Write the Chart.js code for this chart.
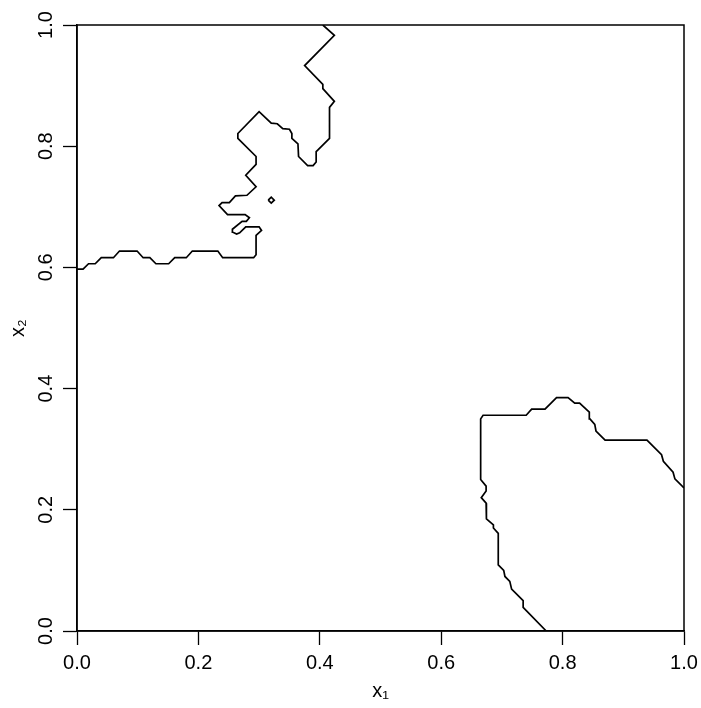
<!DOCTYPE html>
<html>
<head>
<meta charset="utf-8">
<script src="https://cdn.jsdelivr.net/npm/chart.js@4.4.1/dist/chart.umd.min.js"></script>
<style>
  html, body { margin: 0; padding: 0; background: #fff; }
  #wrap { width: 701px; height: 708px; }
</style>
</head>
<body>
<div id="wrap"><canvas id="contourChart" width="701" height="708"></canvas></div>
<script>
// contour touching the left and top edges
const upperX = [0.000, 0.010, 0.019, 0.030, 0.040, 0.060, 0.070, 0.099, 0.109, 0.120, 0.130, 0.151,
    0.161, 0.180, 0.190, 0.232, 0.240, 0.291, 0.295, 0.295, 0.304, 0.300, 0.278, 0.268, 0.263, 0.257,
    0.256, 0.272, 0.279, 0.284, 0.277, 0.248, 0.234, 0.239, 0.251, 0.261, 0.280, 0.295, 0.278, 0.295,
    0.295, 0.265, 0.265, 0.300, 0.320, 0.330, 0.339, 0.350, 0.354, 0.354, 0.364, 0.365, 0.380, 0.389,
    0.394, 0.394, 0.397, 0.416, 0.416, 0.424, 0.405, 0.405, 0.375, 0.424, 0.405];
const upperY = [0.597, 0.597, 0.606, 0.606, 0.616, 0.616, 0.627, 0.627, 0.616, 0.616, 0.606, 0.606,
    0.616, 0.616, 0.627, 0.627, 0.616, 0.616, 0.621, 0.653, 0.661, 0.667, 0.667, 0.657, 0.655, 0.658,
    0.663, 0.676, 0.676, 0.682, 0.687, 0.687, 0.702, 0.707, 0.707, 0.718, 0.719, 0.733, 0.752, 0.770,
    0.783, 0.813, 0.821, 0.857, 0.838, 0.837, 0.829, 0.828, 0.821, 0.813, 0.804, 0.783, 0.768, 0.768,
    0.774, 0.791, 0.794, 0.813, 0.864, 0.874, 0.895, 0.902, 0.933, 0.983, 1.000];

// small closed loop
const dotX = [0.315, 0.320, 0.325, 0.320, 0.315];
const dotY = [0.711, 0.716, 0.711, 0.706, 0.711];

// contour touching the right and bottom edges
const lowerX = [1.000, 0.985, 0.982, 0.966, 0.963, 0.939, 0.870, 0.855, 0.853, 0.845, 0.844, 0.828,
    0.820, 0.809, 0.790, 0.771, 0.749, 0.740, 0.669, 0.665, 0.665, 0.674, 0.674, 0.666, 0.674, 0.674,
    0.675, 0.686, 0.686, 0.694, 0.694, 0.703, 0.705, 0.713, 0.716, 0.735, 0.735, 0.773];
const lowerY = [0.236, 0.251, 0.262, 0.280, 0.291, 0.315, 0.315, 0.330, 0.341, 0.350, 0.361, 0.376,
    0.376, 0.385, 0.385, 0.366, 0.366, 0.356, 0.356, 0.350, 0.250, 0.239, 0.231, 0.220, 0.211, 0.192,
    0.185, 0.175, 0.170, 0.161, 0.109, 0.100, 0.090, 0.082, 0.069, 0.050, 0.039, 0.000];

const tickValues = [0, 0.2, 0.4, 0.6, 0.8, 1.0];
const tickLabels = ['0.0', '0.2', '0.4', '0.6', '0.8', '1.0'];

const FONT = { family: "'Liberation Sans', Arial, Helvetica, sans-serif", size: 20 };

function toPoints(xs, ys) {
    return xs.map((x, i) => ({ x: x, y: ys[i] }));
}

function contourSet(xs, ys) {
    return {
        data: toPoints(xs, ys),
        showLine: true,
        borderColor: '#000',
        borderWidth: 1.7,
        pointRadius: 0,
        fill: false,
        tension: 0
    };
}

// box round the plot region
const frameBox = {
    id: 'frameBox',
    afterDraw(chart) {
        const { ctx, chartArea: a } = chart;
        ctx.save();
        ctx.strokeStyle = '#000';
        ctx.lineWidth = 1.5;
        ctx.strokeRect(a.left, a.top, a.right - a.left, a.bottom - a.top);
        ctx.restore();
    }
};

const ctx = document.getElementById('contourChart').getContext('2d');
new Chart(ctx, {
    type: 'scatter',
    data: {
        datasets: [
            contourSet(upperX, upperY),
            contourSet(dotX, dotY),
            contourSet(lowerX, lowerY)
        ]
    },
    options: {
        responsive: false,
        animation: false,
        devicePixelRatio: 1,
        layout: { padding: { top: 25, right: 17, left: 0, bottom: 0 } },
        plugins: {
            legend: { display: false },
            tooltip: { enabled: false }
        },
        scales: {
            x: {
                type: 'linear',
                min: 0,
                max: 1,
                afterBuildTicks: s => { s.ticks = tickValues.map(v => ({ value: v })); },
                afterFit: s => { s.height = 77; s.paddingLeft = 0; s.paddingRight = 0; },
                ticks: {
                    color: '#000',
                    font: FONT,
                    padding: 6,
                    maxRotation: 0,
                    callback: (v, i) => tickLabels[i]
                },
                grid: {
                    drawOnChartArea: false,
                    drawTicks: true,
                    tickLength: 14,
                    tickColor: '#000',
                    tickWidth: 1.3
                },
                border: { display: true, color: '#000', width: 1.5 },
                title: {
                    display: true,
                    text: 'x₁',
                    color: '#000',
                    font: FONT,
                    padding: { top: 0, bottom: 5 }
                }
            },
            y: {
                type: 'linear',
                min: 0,
                max: 1,
                afterBuildTicks: s => { s.ticks = tickValues.map(v => ({ value: v })); },
                afterFit: s => { s.width = 77; s.paddingTop = 0; s.paddingBottom = 0; },
                ticks: {
                    color: '#000',
                    font: FONT,
                    padding: 3,
                    minRotation: 90,
                    maxRotation: 90,
                    crossAlign: 'center',
                    callback: (v, i) => tickLabels[i]
                },
                grid: {
                    drawOnChartArea: false,
                    drawTicks: true,
                    tickLength: 14,
                    tickColor: '#000',
                    tickWidth: 1.3
                },
                border: { display: true, color: '#000', width: 1.5 },
                title: {
                    display: true,
                    text: 'x₂',
                    color: '#000',
                    font: FONT,
                    padding: { top: 6, bottom: 0 }
                }
            }
        }
    },
    plugins: [frameBox]
});
</script>
</body>
</html>
